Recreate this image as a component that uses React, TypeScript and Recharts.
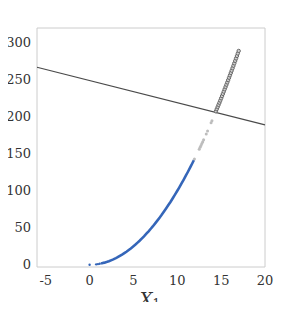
import React from 'react';
import { ComposedChart, Scatter, XAxis, YAxis, ReferenceLine, ReferenceArea } from 'recharts';

// blue part of the curve (x < 12)
const blueDotsX = [0, 0.75, 0.95, 1.15];
const blueDotsY = [0, 0.6, 0.9, 1.3];
const blueX = [1.3, 1.5, 1.7, 2.0, 2.2, 2.5, 2.7, 3.0, 3.2, 3.5, 3.7, 4.0, 4.2, 4.5, 4.7, 5.0, 5.2, 5.5, 5.7, 6.0, 6.2, 6.5, 6.7, 7.0, 7.2, 7.5, 7.7, 8.0, 8.2, 8.5, 8.7, 9.0, 9.2, 9.5, 9.7, 10.0, 10.2, 10.5, 10.7, 11.0, 11.2, 11.5, 11.7, 11.9];
const blueY = [1.7, 2.3, 2.9, 4.0, 4.8, 6.3, 7.3, 9.0, 10.2, 12.3, 13.7, 16.0, 17.6, 20.3, 22.1, 25.0, 27.0, 30.3, 32.5, 36.0, 38.4, 42.3, 44.9, 49.0, 51.8, 56.3, 59.3, 64.0, 67.2, 72.3, 75.7, 81.0, 84.6, 90.3, 94.1, 100.0, 104.0, 110.3, 114.5, 121.0, 125.4, 132.3, 136.9, 141.6];

// light grey points
const greyX = [11.95, 12.5, 12.6, 12.7, 12.8, 12.9, 13.0, 13.3, 13.45, 13.85, 13.95];
const greyY = [142.8, 156.3, 158.8, 161.3, 163.8, 166.4, 169.0, 176.9, 180.9, 191.8, 194.6];

// dark hollow points above the line
const darkX = [14.4, 14.5, 14.6, 14.7, 14.8, 14.9, 15.0, 15.1, 15.2, 15.3, 15.4, 15.5, 15.6, 15.7, 15.8, 15.9, 16.0, 16.1, 16.2, 16.3, 16.4, 16.5, 16.6, 16.7, 16.8, 16.9, 17.0];
const darkY = [207.4, 210.3, 213.2, 216.1, 219.0, 222.0, 225.0, 228.0, 231.0, 234.1, 237.2, 240.3, 243.4, 246.5, 249.6, 252.8, 256.0, 259.2, 262.4, 265.7, 269.0, 272.3, 275.6, 278.9, 282.2, 285.6, 289.0];

// straight line endpoints
const lineX = [-6, 20];
const lineY = [267, 189];

const xTicks = [-5, 0, 5, 10, 15, 20];
const yTicks = [0, 50, 100, 150, 200, 250, 300];

const zip = (xs: number[], ys: number[]) => xs.map((x, i) => ({ x, y: ys[i] }));

const FONT = 'DejaVu Serif';

const dot = (r: number, fill: string, stroke = 'none') => (p: any) => (
  <circle cx={p.cx} cy={p.cy} r={r} fill={fill} stroke={stroke} strokeWidth={0.9} />
);

export default function App() {
  const seg = zip(lineX, lineY);
  return (
    <div style={{ margin: -8, background: '#fff', position: 'relative', width: 297, height: 310, overflow: 'hidden' }}>
      <ComposedChart width={297} height={310} margin={{ top: 28, right: 32, bottom: 0, left: 0 }}>
        <XAxis
          type="number"
          dataKey="x"
          domain={[-6, 20]}
          ticks={xTicks}
          allowDataOverflow
          axisLine={false}
          tickLine={false}
          height={43}
          tickMargin={3}
          tick={{ fontFamily: FONT, fontSize: 13, fill: '#333' }}
        />
        <YAxis
          type="number"
          dataKey="y"
          domain={[-3, 320]}
          ticks={yTicks}
          allowDataOverflow
          axisLine={false}
          tickLine={false}
          width={37}
          tickMargin={0}
          tick={{ fontFamily: FONT, fontSize: 13, fill: '#333' }}
        />
        <ReferenceArea x1={-6} x2={20} y1={-3} y2={320} fill="none" stroke="#cccccc" strokeWidth={1} />
        <ReferenceLine segment={seg} stroke="#4a4a4a" strokeWidth={1.2} />
        <Scatter data={zip(blueDotsX, blueDotsY)} shape={dot(1.2, '#3566b9')} isAnimationActive={false} />
        <Scatter
          data={zip(blueX, blueY)}
          line={{ stroke: '#3566b9', strokeWidth: 2.6 }}
          lineType="joint"
          shape={dot(0.1, '#3566b9')}
          isAnimationActive={false}
        />
        <Scatter data={zip(greyX, greyY)} shape={dot(1.5, '#bdbdbd')} isAnimationActive={false} />
        <Scatter data={zip(darkX, darkY)} shape={dot(1.7, '#cfcfcf', '#5f5f5f')} isAnimationActive={false} />
      </ComposedChart>
      <svg width={297} height={310} style={{ position: 'absolute', left: 0, top: 0, pointerEvents: 'none' }}>
        <text x={150} y={306} textAnchor="middle" fontFamily={FONT} fontSize={18} fontStyle="italic" fill="#333">
          X<tspan fontSize={12} dy={2} fontStyle="normal">1</tspan>
        </text>
        <text transform="translate(3,148) rotate(-90)" textAnchor="middle" fontFamily={FONT} fontSize={18} fontStyle="italic" fill="#333">
          X<tspan fontSize={12} dy={3} fontStyle="normal">2</tspan>
        </text>
      </svg>
    </div>
  );
}
